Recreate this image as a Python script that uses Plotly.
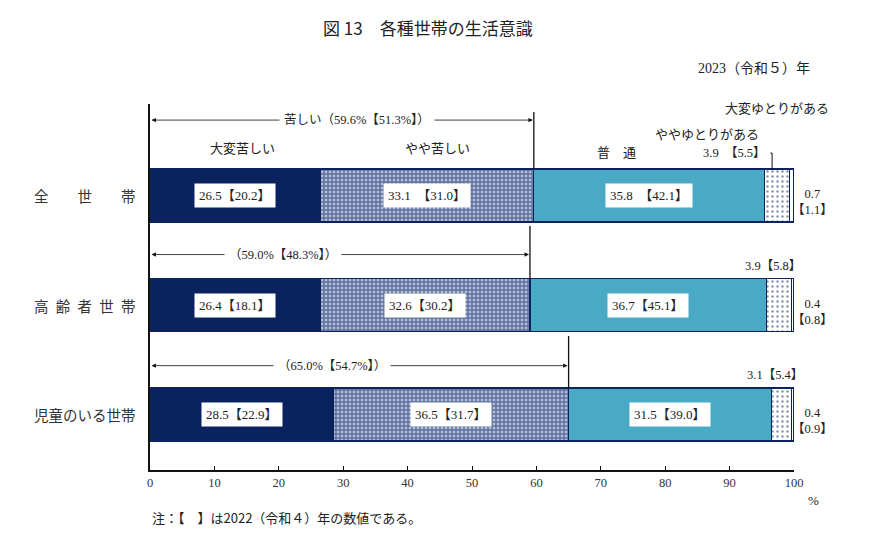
import plotly.graph_objects as go

# ---- data ----
categories = ["全　　世　　帯", "高\u2002齢\u2002者\u2002世\u2002帯", "児童のいる世帯"]
series_names = ["大変苦しい", "やや苦しい", "普　通", "ややゆとりがある", "大変ゆとりがある"]
very_hard = [26.5, 26.4, 28.5]
somewhat_hard = [33.1, 32.6, 36.5]
normal = [35.8, 36.7, 31.5]
somewhat_comfy = [3.9, 3.9, 3.1]
very_comfy = [0.7, 0.4, 0.4]
very_hard_2022 = [20.2, 18.1, 22.9]
somewhat_hard_2022 = [31.0, 30.2, 31.7]
normal_2022 = [42.1, 45.1, 39.0]
somewhat_comfy_2022 = [5.5, 5.8, 5.4]
very_comfy_2022 = [1.1, 0.8, 0.9]
hard_total = [59.6, 59.0, 65.0]
hard_total_2022 = [51.3, 48.3, 54.7]
x_ticks = [0, 10, 20, 30, 40, 50, 60, 70, 80, 90, 100]

NAVY = "#0a225e"
LIGHT = "#4aaac6"
FONT = "Liberation Serif, Noto Sans CJK JP"
CJK = "Noto Sans CJK JP, Liberation Serif"

ypos = list(range(len(categories)))
BW = 0.484
fig = go.Figure()

series_vals = [very_hard, somewhat_hard, normal, somewhat_comfy, very_comfy]
styles = [
    dict(color=NAVY),
    dict(color="white", pattern=dict(shape="+", fgcolor=NAVY, bgcolor="#b3bfdb", size=4, solidity=0.6)),
    dict(color=LIGHT),
    dict(color="white", pattern=dict(shape=".", fgcolor=NAVY, bgcolor="white", size=5, solidity=0.18)),
    dict(color="white"),
]
for name, vals, st in zip(series_names, series_vals, styles):
    fig.add_trace(go.Bar(
        y=ypos, x=vals, orientation="h", name=name, width=BW,
        marker=dict(**st, line=dict(color=NAVY, width=1.2)),
        showlegend=False, hoverinfo="skip",
    ))

ann = []
shapes = []
# value boxes inside bars
prev_lists = [very_hard_2022, somewhat_hard_2022, normal_2022]
for i in ypos:
    start = 0.0
    for k, (vals, prev) in enumerate(zip(series_vals[:3], prev_lists)):
        sep = "　" if (i == 0 and k > 0) else ""
        ann.append(dict(x=start + vals[i] / 2, y=i, xref="x", yref="y",
                        text=f"{vals[i]:.1f}{sep}【{prev[i]:.1f}】", showarrow=False,
                        bgcolor="white", font=dict(family=FONT, size=13, color="#222"),
                        borderpad=4))
        start += vals[i]

# category labels
for i, c in enumerate(categories):
    ann.append(dict(x=0, y=i, xref="paper", yref="y", xanchor="right", xshift=-12,
                    text=c, showarrow=False, font=dict(family=CJK, size=14.5, color="#333")))

# bracket arrows for 苦しい
arrow_y = [-0.689, 0.539, 1.554]
vline_top = [-0.763, 0.279, 1.283]
label_x = [32.2, 20.7, 28.3]
for i in ypos:
    tot = very_hard[i] + somewhat_hard[i]
    ann.append(dict(x=tot, y=arrow_y[i], ax=0, ay=arrow_y[i], xref="x", yref="y",
                    axref="x", ayref="y", text="", showarrow=True, arrowhead=2,
                    arrowside="end+start", arrowsize=1.1, arrowwidth=0.8, arrowcolor="#111",
                    standoff=1, startstandoff=0))
    pre = "苦しい" if i == 0 else ""
    ann.append(dict(x=label_x[i], y=arrow_y[i], xref="x", yref="y",
                    text=f"{pre}（{hard_total[i]:.1f}%【{hard_total_2022[i]:.1f}%】）",
                    showarrow=False, bgcolor="white", borderpad=4,
                    font=dict(family=FONT, size=12.5, color="#222")))
    shapes.append(dict(type="line", xref="x", yref="y", x0=tot, x1=tot,
                       y0=vline_top[i], y1=i - BW / 2, line=dict(color="#111", width=1.3)))

# headers over first row
hdr = [("大変苦しい", 14.3, -0.443), ("やや苦しい", 44.7, -0.443), ("普　通", 72.4, -0.406),
       ("ややゆとりがある", 86.5, -0.571), ("大変ゆとりがある", 97.4, -0.808)]
for t, x, y in hdr:
    ann.append(dict(x=x, y=y, xref="x", yref="y", text=t, showarrow=False,
                    font=dict(family=CJK, size=13, color="#222")))

# small-segment labels
for i in ypos:
    s4 = very_hard[i] + somewhat_hard[i] + normal[i]
    if i == 0:
        lx = s4 + 1.2
        ann.append(dict(x=lx, y=-0.388, xref="x", yref="y", xanchor="right", xshift=-4,
                        text=f"{somewhat_comfy[i]:.1f}　【{somewhat_comfy_2022[i]:.1f}】",
                        showarrow=False, font=dict(family=FONT, size=12.5, color="#222")))
        shapes.append(dict(type="path", xref="x", yref="y",
                           path=f"M {lx-0.25},-0.388 L {lx},-0.388 L {lx},{-BW/2}",
                           line=dict(color="#111", width=1)))
        ex = 100.5
        shapes.append(dict(type="path", xref="x", yref="y",
                           path=f"M {ex},-0.717 L {ex},-0.114 L 100,-0.114",
                           line=dict(color="#111", width=1)))
    else:
        ann.append(dict(x=s4 + somewhat_comfy[i] / 2, y=i - BW / 2, xref="x", yref="y",
                        yanchor="bottom", yshift=4, xshift=-6,
                        text=f"{somewhat_comfy[i]:.1f}【{somewhat_comfy_2022[i]:.1f}】",
                        showarrow=False, font=dict(family=FONT, size=12.5, color="#222")))
    ann.append(dict(x=100, y=i + 0.06, xref="x", yref="y", xanchor="center", xshift=18,
                    text=f"{very_comfy[i]:.1f}<br>【{very_comfy_2022[i]:.1f}】",
                    showarrow=False, font=dict(family=FONT, size=12.5, color="#222")))

# titles / notes (paper coords relative to plot area: 366px tall, 644px wide)
ann.append(dict(x=0.432, y=1.210, xref="paper", yref="paper", text="図 13　各種世帯の生活意識",
                showarrow=False, yanchor="middle", font=dict(family=CJK, size=17, color="#222")))
ann.append(dict(x=1.028, y=1.098, xref="paper", yref="paper", text="2023（令和５）年",
                showarrow=False, xanchor="right", yanchor="middle",
                font=dict(family=FONT, size=14, color="#222")))
ann.append(dict(x=1.0, y=-0.082, xref="paper", yref="paper", text="%", showarrow=False,
                xanchor="left", xshift=12, yanchor="middle",
                font=dict(family=FONT, size=13, color="#222")))
ann.append(dict(x=0, y=-0.131, xref="paper", yref="paper", showarrow=False,
                xanchor="left", yanchor="middle", text="注：【　】は2022（令和４）年の数値である。",
                font=dict(family=CJK, size=13, color="#222")))

# page has an 8px body margin: figure is drawn 8px in from the window edges
fig.update_layout(
    barmode="stack", width=862, height=525,
    margin=dict(l=142, r=76, t=96, b=63),
    plot_bgcolor="white", paper_bgcolor="white",
    shapes=shapes, annotations=ann,
    xaxis=dict(range=[0, 100], tickvals=x_ticks, ticks="inside", ticklen=4, tickcolor="#111",
               showline=True, linecolor="#111", linewidth=1.5, showgrid=False, zeroline=False,
               tickfont=dict(family=FONT, size=12.5, color="#333"), fixedrange=True),
    yaxis=dict(range=[2.507, -0.836], showticklabels=False, ticks="", showline=True,
               linecolor="#111", linewidth=1.5, showgrid=False, zeroline=False, fixedrange=True),
)

fig.write_html("out.html")
